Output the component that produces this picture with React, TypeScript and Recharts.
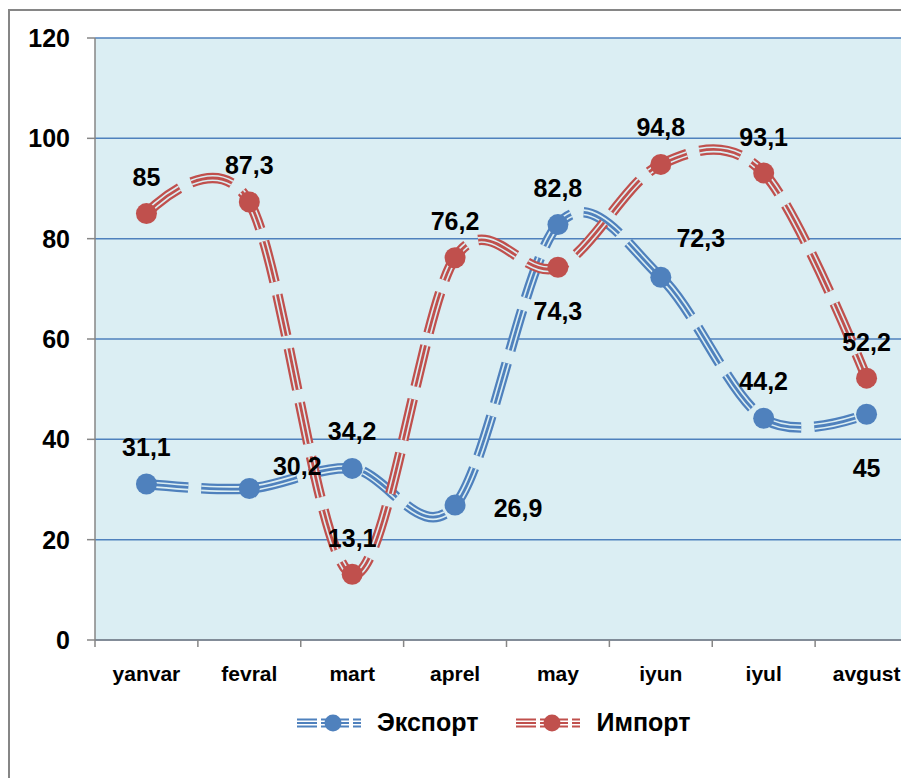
import { LineChart, Line, XAxis, YAxis, CartesianGrid, LabelList, Legend } from "recharts"

const months = ["yanvar", "fevral", "mart", "aprel", "may", "iyun", "iyul", "avgust"]
const exportValues = [31.1, 30.2, 34.2, 26.9, 82.8, 72.3, 44.2, 45]
const importValues = [85, 87.3, 13.1, 76.2, 74.3, 94.8, 93.1, 52.2]
const yTicks = [0, 20, 40, 60, 80, 100, 120]
const seriesNames = ["Экспорт", "Импорт"]

// where Excel placed each data label, relative to its point
const exportLabelDx = [0, 48, 0, 63, 0, 40, 0, 0]
const exportLabelDy = [-37, -22, -37, 3, -37, -39, -37, 54]
const importLabelDx = [0, 0, 0, 0, 0, 0, 0, 0]
const importLabelDy = [-37, -37, -36, -37, 44, -37, -36, -36]

const data = months.map((m, i) => ({ month: m, export: exportValues[i], import: importValues[i] }))

const BLUE = "#4F81BD"
const RED = "#C0504D"
const BG = "#DBEEF3"
const AXIS = "#868686"
const FONT = "'Liberation Sans', Arial, sans-serif"
const DASH = "42 13"

const CHART_W = 930
const CHART_H = 790
const M_RIGHT = 22
const Y_W = 85
const BAND = (CHART_W - Y_W - M_RIGHT) / 8
const X_TICK = 7
const X_MARGIN = 19

// catmull-rom style smoothing, close to Excel's "smoothed line"
function smooth(context: any) {
  let x0 = NaN, y0 = NaN, x1 = NaN, y1 = NaN, x2 = NaN, y2 = NaN
  let pt = 0
  let line = NaN
  const k = 1 / 6
  const bez = (x: number, y: number) => {
    context.bezierCurveTo(x1 + k * (x2 - x0), y1 + k * (y2 - y0), x2 + k * (x1 - x), y2 + k * (y1 - y), x2, y2)
  }
  return {
    areaStart() { line = 0 },
    areaEnd() { line = NaN },
    lineStart() { x0 = x1 = x2 = y0 = y1 = y2 = NaN; pt = 0 },
    lineEnd() {
      if (pt === 2) context.lineTo(x2, y2)
      else if (pt === 3) bez(x1, y1)
      if (line || (line !== 0 && pt === 1)) context.closePath()
      line = 1 - line
    },
    point(x: number, y: number) {
      x = +x; y = +y
      switch (pt) {
        case 0: pt = 1; if (line) context.lineTo(x, y); else context.moveTo(x, y); break
        case 1: pt = 2; x1 = x; y1 = y; break
        case 2: pt = 3; bez(x, y); break
        default: bez(x, y); break
      }
      x0 = x1; x1 = x2; x2 = x
      y0 = y1; y1 = y2; y2 = y
    },
  }
}

const makeLabel = (dxs: number[], dys: number[]) => (props: any) => {
  const { x, y, value, index } = props
  return (
    <text x={x + dxs[index]} y={y + dys[index]} textAnchor="middle" dominantBaseline="central"
      fontSize={25} fontWeight="bold" fill="#000" fontFamily={FONT}>
      {String(value).replace(".", ",")}
    </text>
  )
}

function MonthTick(props: any) {
  const { x, y, payload, index } = props
  const axisY = y - X_TICK - X_MARGIN
  return (
    <g>
      <line x1={x - BAND / 2} x2={x - BAND / 2} y1={axisY} y2={axisY + X_TICK} stroke={AXIS} strokeWidth={1.5} />
      {index === months.length - 1 && (
        <line x1={x + BAND / 2} x2={x + BAND / 2} y1={axisY} y2={axisY + X_TICK} stroke={AXIS} strokeWidth={1.5} />
      )}
      <text x={x} y={y} dy="0.71em" textAnchor="middle" fontSize={21} fontWeight="bold" fill="#000" fontFamily={FONT}>
        {payload.value}
      </text>
    </g>
  )
}

function LegendIcon({ color }: { color: string }) {
  return (
    <svg width={75} height={24} style={{ display: "block" }}>
      {[8.5, 12, 15.5].map((yy) => (
        <line key={yy} x1={0} x2={75} y1={yy} y2={yy} stroke={color} strokeWidth={1.8} strokeDasharray="20 4 28 4 8 11" />
      ))}
      <circle cx={36} cy={12} r={8.5} fill={color} />
    </svg>
  )
}

function LegendBox() {
  const colors = [BLUE, RED]
  return (
    <div style={{ display: "flex", alignItems: "center", fontFamily: FONT, fontWeight: "bold", fontSize: 25 }}>
      {seriesNames.map((n, i) => (
        <div key={n} style={{ display: "flex", alignItems: "center", marginRight: 38 }}>
          <LegendIcon color={colors[i]} />
          <span style={{ marginLeft: 5 }}>{n}</span>
        </div>
      ))}
    </div>
  )
}

function tripleLine(key: string, color: string, dxs: number[], dys: number[]) {
  return [
    <Line key={key + "1"} dataKey={key} type={smooth as any} stroke={color} strokeWidth={10.5}
      strokeDasharray={DASH} dot={false} activeDot={false} legendType="none" isAnimationActive={false} />,
    <Line key={key + "2"} dataKey={key} type={smooth as any} stroke={BG} strokeWidth={6}
      strokeDasharray={DASH} dot={false} activeDot={false} legendType="none" isAnimationActive={false} />,
    <Line key={key + "3"} dataKey={key} type={smooth as any} stroke={color} strokeWidth={2.8}
      strokeDasharray={DASH} dot={{ r: 10.5, fill: color, stroke: "none" }} activeDot={false}
      legendType="none" isAnimationActive={false}>
      <LabelList dataKey={key} content={makeLabel(dxs, dys)} />
    </Line>,
  ]
}

export default function App() {
  return (
    <div style={{ width: 901, height: 770, overflow: "hidden" }}>
      <div style={{ marginTop: 1, width: CHART_W, height: CHART_H, border: `2px solid ${AXIS}`, background: "#fff" }}>
        <LineChart width={CHART_W} height={CHART_H} data={data}
          margin={{ top: 27, right: M_RIGHT, left: 0, bottom: 0 }} style={{ fontFamily: FONT }}>
          <CartesianGrid vertical={false} stroke={BLUE} strokeWidth={1.5} fill={BG} fillOpacity={1} />
          <XAxis dataKey="month" scale="band" height={161} axisLine={{ stroke: AXIS, strokeWidth: 1.5 }}
            tickLine={false} tickSize={X_TICK} tickMargin={X_MARGIN} tick={<MonthTick />} interval={0} />
          <YAxis domain={[0, 120]} ticks={yTicks} width={Y_W} tickSize={8} tickMargin={17}
            axisLine={{ stroke: AXIS, strokeWidth: 1.5 }} tickLine={{ stroke: AXIS, strokeWidth: 1.5 }}
            tick={{ fontSize: 25, fontWeight: "bold", fill: "#000", fontFamily: FONT }} />
          {tripleLine("export", BLUE, exportLabelDx, exportLabelDy)}
          {tripleLine("import", RED, importLabelDx, importLabelDy)}
          <Legend verticalAlign="middle" layout="horizontal" content={<LegendBox />}
            wrapperStyle={{ top: 697, left: 287, width: "auto" }} />
        </LineChart>
      </div>
    </div>
  )
}
